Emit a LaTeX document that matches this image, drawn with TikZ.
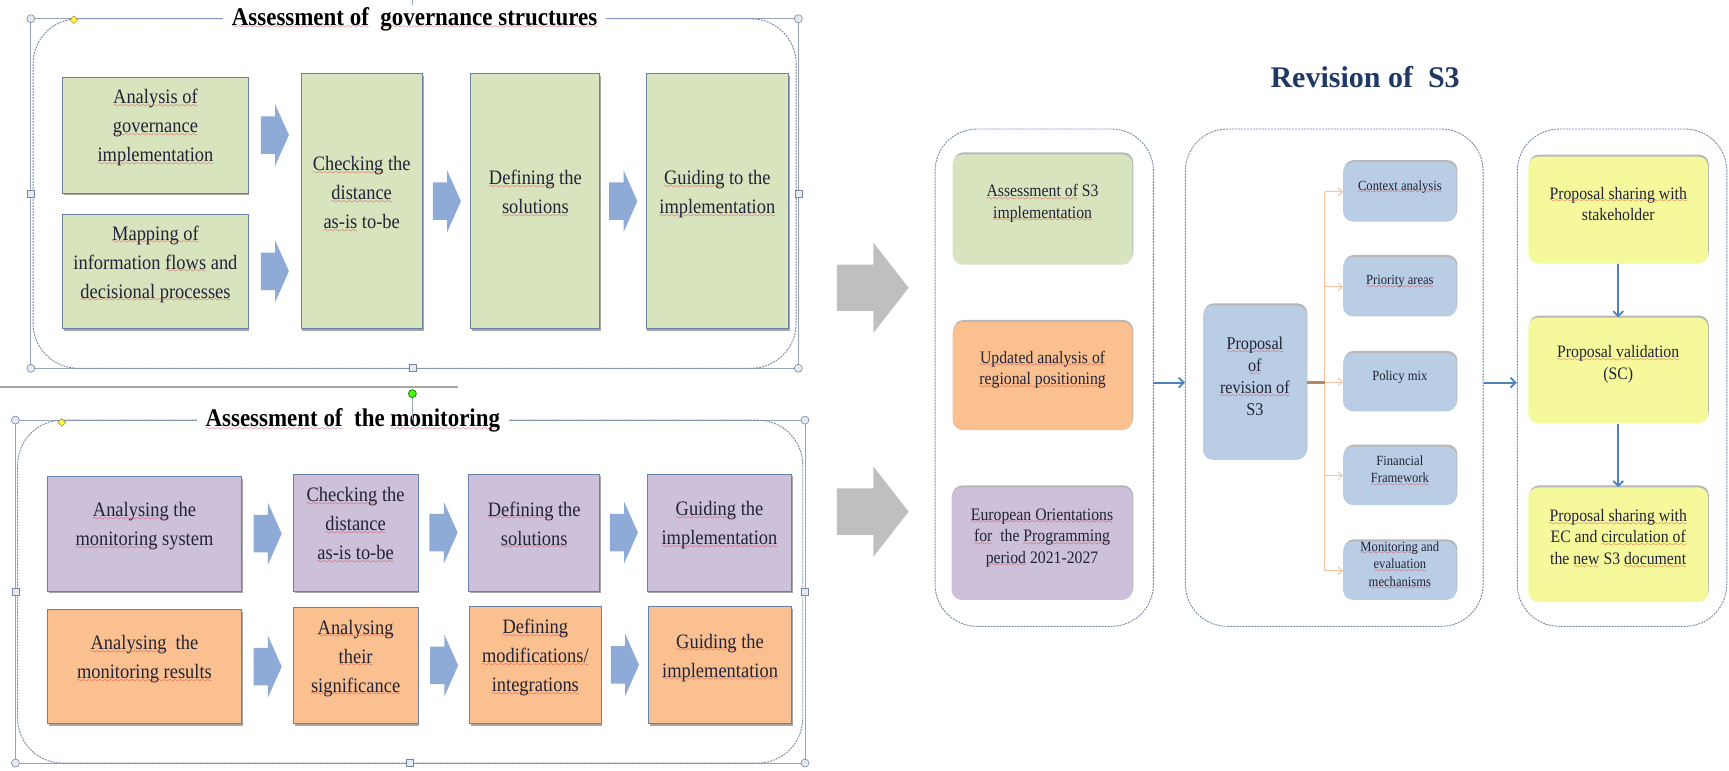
\documentclass[tikz,border=0pt]{standalone}
\usepackage{fontspec}
\setmainfont{Liberation Serif}[FakeStretch=0.9]
\newfontfamily\wideserif{Liberation Serif}
\usetikzlibrary{fit,calc,shadows,arrows.meta,shapes.geometric}

\definecolor{txt}{RGB}{35,35,55}
\definecolor{gfill}{RGB}{215,228,189}
\definecolor{pfill}{RGB}{204,192,218}
\definecolor{ofill}{RGB}{250,192,144}
\definecolor{bfill}{RGB}{185,205,229}
\definecolor{yfill}{RGB}{245,249,155}
\definecolor{bdr}{RGB}{105,128,170}
\definecolor{arrowblue}{RGB}{142,170,214}
\definecolor{linkblue}{RGB}{79,129,189}
\definecolor{frameblue}{RGB}{120,135,170}
\definecolor{selline}{RGB}{150,165,190}
\definecolor{branchc}{RGB}{245,195,160}
\definecolor{stubc}{RGB}{185,135,100}
\definecolor{navy}{RGB}{31,56,100}
\definecolor{wavered}{RGB}{225,40,40}
\definecolor{handlef}{RGB}{228,234,242}
\definecolor{handled}{RGB}{120,135,160}
\definecolor{garrowc}{RGB}{191,191,191}

\font\wavefont=lasy7
\newsavebox\spkbox
\newcommand\spk[1]{\leavevmode\sbox\spkbox{#1}\rlap{\color{wavered}\lower3.6pt\hbox to\wd\spkbox{\xleaders\hbox{\wavefont\char58}\hfill}}\usebox\spkbox}

\newcommand\blockarrow[2]{%
  \fill[arrowblue] ($(#1.east)!0.5!(#2.west |- #1.east)$) ++(-12.5,-17) -- ++(13,0) -- ++(0,-11)
    -- ++(12.5,28) -- ++(-12.5,28) -- ++(0,-11) -- ++(-13,0) -- cycle;}
\newcommand\grayarrow[1]{%
  \fill[garrowc, shift={(#1)}] (0,-21) -- (33,-21) -- (33,-41) -- (65,0) -- (33,41) -- (33,21) -- (0,21) -- cycle;}

\tikzset{
  every node/.style={text=txt},
  lbox/.style={draw=bdr, line width=0.8pt, inner sep=0pt, align=center,
    font=\fontsize{20.5}{29}\selectfont,
    drop shadow={shadow xshift=1.2pt, shadow yshift=-2.2pt, opacity=0.35, fill=black}},
  gbox/.style={lbox, fill=gfill},
  pbox/.style={lbox, fill=pfill},
  obox/.style={lbox, fill=ofill},
  rbox/.style={rounded corners=10pt, inner sep=0pt, align=center,
    font=\fontsize{17.5}{21.5}\selectfont,
    drop shadow={shadow xshift=0.8pt, shadow yshift=2pt, opacity=0.35, fill=black!80}},
  sbox/.style={rbox, fill=bfill, font=\fontsize{14}{17.5}\selectfont},
  panelframe/.style={draw=frameblue, dash pattern=on 2pt off 1pt, line width=0.9pt,
    rounded corners=45pt, inner sep=0pt},
  colframe/.style={draw=frameblue, dash pattern=on 2pt off 1pt, line width=0.9pt,
    rounded corners=42pt, inner sep=0pt},
  ptitle/.style={font=\bfseries\fontsize{25.5}{30}\selectfont, text=black, fill=white,
    inner xsep=9pt, inner ysep=2pt, anchor=base},
  hcirc/.style={circle, draw=handled, fill=handlef, line width=0.6pt, inner sep=0pt, minimum size=8pt},
  hsq/.style={rectangle, draw=handled, fill=handlef, line width=0.6pt, inner sep=0pt, minimum size=7pt},
  hdia/.style={diamond, draw=black!50!yellow, fill=yellow!80!white, line width=0.5pt, inner sep=0pt, minimum width=8pt, minimum height=8pt},
  link/.style={draw=linkblue, line width=1.8pt, -{Straight Barb[length=5pt,width=10pt]}},
  branch/.style={draw=branchc, line width=1pt},
  brarrow/.style={branch, -{Straight Barb[length=4pt,width=8pt]}},
}

\begin{document}
\begin{tikzpicture}[x=1.1027pt,y=-1.1027pt]
\useasboundingbox (0,0) rectangle (1568,699);
\fill[white] (0,0) rectangle (1568,699);

% ================= top-left panel =================
\draw[selline, line width=0.8pt] (28,17) rectangle (724,334);
\draw[selline, line width=0.8pt] (374,0) -- (374,17);
\node[panelframe, fit={(30,17) (722,334)}] (TP) {};
\node[ptitle] (T1) at (376,23) {\spk{Assessment of}~ \spk{governance structures}};

\node[gbox, fit={(57,70) (225,175)}] (A1) {\spk{Analysis of}\\\spk{governance}\\\spk{implementation}};
\node[gbox, fit={(57,194) (225,298)}] (A2) {\spk{Mapping of}\\information \spk{flows} and\\\spk{decisional processes}};
\node[gbox, fit={(273,67) (383,298)}] (B) {\spk{Checking} the\\\spk{distance}\\\spk{as-is} to-be};
\node[gbox, fit={(427,67) (544,298)}] (C) {\spk{Defining} the\\\spk{solutions}};
\node[gbox, fit={(586,67) (715,298)}] (D) {\spk{Guiding} to the\\\spk{implementation}};
\blockarrow{A1}{B}
\blockarrow{A2}{B}
\blockarrow{B}{C}
\blockarrow{C}{D}

\node[hcirc] (h1) at (28,17) {};
\node[hcirc] (h2) at (724,17) {};
\node[hcirc] (h3) at (28,334) {};
\node[hcirc] (h4) at (724,334) {};
\node[hsq] (h5) at (28,176) {};
\node[hsq] (h6) at (724,176) {};
\node[hsq] (h7) at (374,334) {};
\node[hdia] (h8) at (67,18) {};

% ================= bottom-left panel =================
\draw[black!35, line width=1.6pt] (0,351) -- (415,351);
\draw[selline, line width=0.8pt] (14,381) rectangle (730,692);
\node[panelframe, fit={(16,381) (728,692)}] (BP) {};
\node[ptitle] (T2) at (320,387) {\spk{Assessment of}~ the \spk{monitoring}};
\draw[selline, line width=0.8pt] (374,357) -- (374,381);

\node[pbox, fit={(43,432) (219,536)}] (P1) {\spk{Analysing} the\\\spk{monitoring} system};
\node[pbox, fit={(266,430) (379,536)}] (P2) {\spk{Checking} the\\\spk{distance}\\\spk{as-is to-be}};
\node[pbox, fit={(425,430) (544,536)}] (P3) {\spk{Defining} the\\\spk{solutions}};
\node[pbox, fit={(587,430) (718,536)}] (P4) {\spk{Guiding} the\\\spk{implementation}};
\node[obox, fit={(43,553) (219,656)}] (O1) {\spk{Analysing}~ the\\\spk{monitoring results}};
\node[obox, fit={(266,551) (379,656)}] (O2) {\spk{Analysing}\\\spk{their}\\\spk{significance}};
\node[obox, fit={(426,550) (545,656)}] (O3) {\spk{Defining}\\\spk{modifications/}\\\spk{integrations}};
\node[obox, fit={(588,550) (718,656)}] (O4) {\spk{Guiding} the\\\spk{implementation}\\[4pt]};
\blockarrow{P1}{P2}
\blockarrow{P2}{P3}
\blockarrow{P3}{P4}
\blockarrow{O1}{O2}
\blockarrow{O2}{O3}
\blockarrow{O3}{O4}

\node[hcirc] (k1) at (14,381) {};
\node[hcirc] (k2) at (730,381) {};
\node[hcirc] (k3) at (14,692) {};
\node[hcirc] (k4) at (730,692) {};
\node[hsq] (k5) at (14,537) {};
\node[hsq] (k6) at (730,537) {};
\node[hsq] (k7) at (372,692) {};
\node[hdia] (k8) at (56,383) {};
\node[hcirc, fill=green!65!lime, draw=green!40!black] (k9) at (374,357) {};

% ================= gray arrows =================
\grayarrow{759,261}
\grayarrow{759,464}

% ================= right part =================
\node[font=\wideserif\bfseries\fontsize{30}{36}\selectfont, text=navy, anchor=base] (RT) at (1238,79) {Revision of~ S3};

\node[colframe, fit={(848,117) (1046,568)}] (C1) {};
\node[colframe, fit={(1075,117) (1345,568)}] (C2) {};
\node[colframe, fit={(1376,117) (1566,568)}] (C3) {};

\node[rbox, fill=gfill, fit={(864,140) (1027,240)}] (G) {\spk{Assessment of} S3\\\spk{implementation}};
\node[rbox, fill=ofill, fit={(864,292) (1027,390)}] (Or) {\spk{Updated analysis of}\\\spk{regional positioning}};
\node[rbox, fill=pfill, fit={(863,442) (1027,544)}] (Pu) {\spk{European Orientations}\\\spk{for}~ the \spk{Programming}\\\spk{period} 2021-2027};

\node[rbox, fill=bfill, font=\fontsize{18}{22}\selectfont, fit={(1091,277) (1185,417)}] (PR) {\spk{Proposal}\\\spk{of}\\\spk{revision of}\\S3};

\node[sbox, fit={(1218,147) (1321,201)}] (S1) {\spk{Context analysis}};
\node[sbox, fit={(1218,233) (1321,287)}] (S2) {\spk{Priority areas}};
\node[sbox, fit={(1218,320) (1321,373)}] (S3) {Policy mix};
\node[sbox, fit={(1218,405) (1321,458)}] (S4) {Financial\\\spk{Framework}};
\node[sbox, fit={(1218,491) (1321,544)}] (S5) {\spk{Monitoring} and\\\spk{evaluation}\\\spk{mechanisms}};

\node[rbox, fill=yfill, fit={(1386,142) (1549,239)}] (Y1) {\spk{Proposal sharing with}\\stakeholder};
\node[rbox, fill=yfill, fit={(1386,288) (1549,384)}] (Y2) {\spk{Proposal validation}\\(SC)};
\node[rbox, fill=yfill, fit={(1386,442) (1549,546)}] (Y3) {\spk{Proposal sharing with}\\EC and \spk{circulation of}\\the \spk{new} S3 \spk{document}};

% branches
\coordinate (T) at ($(PR.east)+(16,0)$);
\draw[branch] (T |- S1.west) -- (T |- S5.west);
\foreach \s in {S1,S2,S3,S4,S5} \draw[brarrow] (T |- \s.west) -- (\s.west);
\draw[stubc, line width=3pt] (PR.east) -- (T);

% links
\draw[link] (C1.east |- PR.east) -- (C2.west |- PR.east);
\draw[link] (C2.east |- PR.east) -- (C3.west |- PR.east);
\draw[link] (Y1.south) -- (Y2.north);
\draw[link] (Y2.south) -- (Y3.north);
\end{tikzpicture}
\end{document}
